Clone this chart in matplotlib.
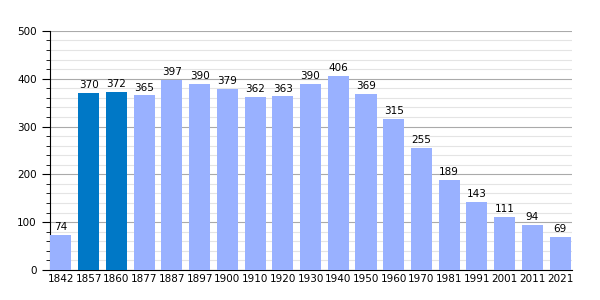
import matplotlib.pyplot as plt
import numpy as np
from matplotlib.ticker import MultipleLocator

years = ["1842", "1857", "1860", "1877", "1887", "1897", "1900", "1910", "1920", "1930",
         "1940", "1950", "1960", "1970", "1981", "1991", "2001", "2011", "2021"]
population = [74, 370, 372, 365, 397, 390, 379, 362, 363, 390,
              406, 369, 315, 255, 189, 143, 111, 94, 69]
highlight = ["1857", "1860"]

light = "#99b1ff"
dark = "#0078c6"

fig = plt.figure(figsize=(6, 3), dpi=100)
ax = fig.add_axes([0.083, 0.1, 0.87, 0.797])

x = np.arange(len(years))
colors = [dark if y in highlight else light for y in years]
ax.bar(x, population, width=0.76, color=colors, zorder=3)

for xi, v in zip(x, population):
    ax.text(xi, v + 6, str(v), ha="center", va="bottom", fontsize=7.5, zorder=4)

ax.set_xlim(-0.4, len(years) - 0.58)
ax.set_ylim(0, 500)
ax.set_xticks(x)
ax.set_xticklabels(years, fontsize=7.5)
ax.yaxis.set_major_locator(MultipleLocator(100))
ax.yaxis.set_minor_locator(MultipleLocator(20))
ax.tick_params(axis="y", labelsize=7.5, which="major", length=6, direction="out")
ax.tick_params(axis="y", which="minor", length=3, direction="out")
ax.tick_params(axis="x", length=0, pad=3)

ax.grid(axis="y", which="major", color="#aaaaaa", linewidth=0.8, zorder=0)
ax.grid(axis="y", which="minor", color="#e4e4e4", linewidth=0.8, zorder=0)

ax.spines["top"].set_visible(False)
ax.spines["right"].set_visible(False)

fig.savefig("out.png")
